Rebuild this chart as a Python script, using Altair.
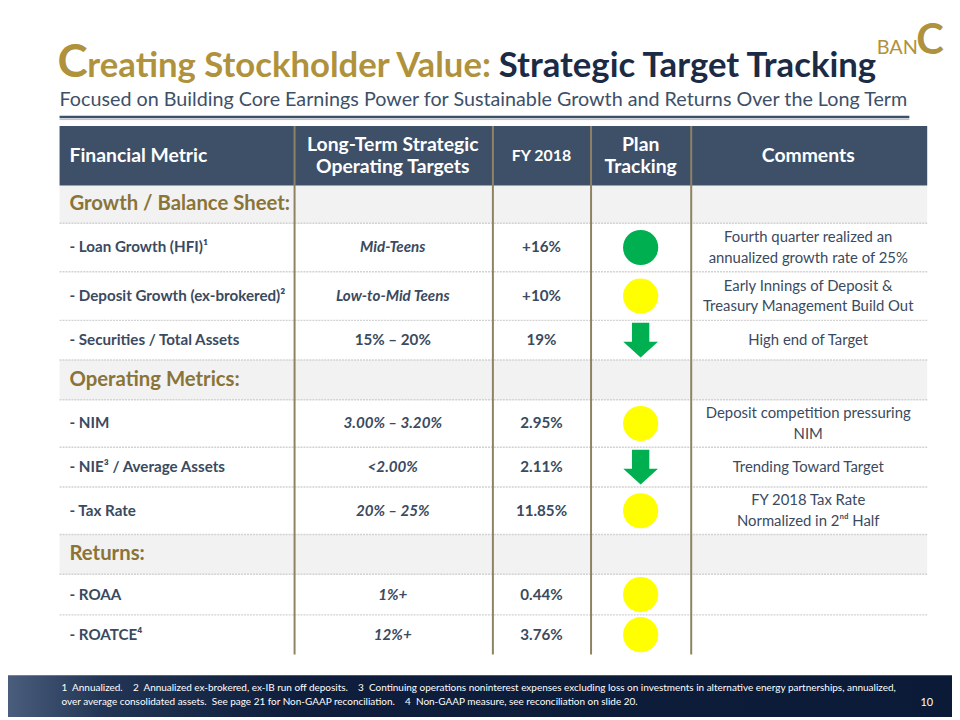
import altair as alt
import pandas as pd

# ------------------------------------------------------------------ data
title_lead = "C"
title_gold = "reating Stockholder Value:"
title_dark = "Strategic Target Tracking"
subtitle = ("Focused on Building Core Earnings Power for Sustainable Growth "
            "and Returns Over the Long Term")
logo_small = "BAN"
logo_big = "C"

header_labels = ["Financial Metric", "Long-Term Strategic\nOperating Targets",
                 "FY 2018", "Plan\nTracking", "Comments"]

sections = ["Growth / Balance Sheet:", "Operating Metrics:", "Returns:"]

metrics = ["- Loan Growth (HFI)¹", "- Deposit Growth (ex-brokered)²",
           "- Securities / Total Assets", "- NIM", "- NIE³ / Average Assets",
           "- Tax Rate", "- ROAA", "- ROATCE⁴"]
metric_section = [0, 0, 0, 1, 1, 1, 2, 2]
targets = ["Mid-Teens", "Low-to-Mid Teens", "15% – 20%", "3.00% – 3.20%",
           "<2.00%", "20% – 25%", "1%+", "12%+"]
fy2018 = ["+16%", "+10%", "19%", "2.95%", "2.11%", "11.85%", "0.44%", "3.76%"]
tracking = ["On track", "Watch", "Trending down", "Watch", "Trending down",
            "Watch", "Watch", "Watch"]
comments = ["Fourth quarter realized an\nannualized growth rate of 25%",
            "Early Innings of Deposit &\nTreasury Management Build Out",
            "High end of Target",
            "Deposit competition pressuring\nNIM",
            "Trending Toward Target",
            "FY 2018 Tax Rate\nNormalized in 2ⁿᵈ Half",
            "", ""]

NB = "\u00a0"
footnotes = [
    f"1{NB}{NB}Annualized.{NB*4}2{NB}{NB}Annualized ex-brokered, ex-IB run off "
    f"deposits.{NB*4}3{NB}{NB}Continuing operations noninterest expenses "
    "excluding loss on investments in alternative energy partnerships, annualized,",
    f"over average consolidated assets.{NB}{NB}See page 21 for Non-GAAP "
    f"reconciliation.{NB*4}4{NB}{NB}Non-GAAP measure, see reconciliation on slide 20.",
]
page_number = "10"

# ------------------------------------------------------------------ layout
FONT = "Lato"
SLATE = "#3D5068"
TEXT = "#3A4A60"
GOLD = "#B0923D"
SECTION_GOLD = "#8A7438"
RULE_GOLD = "#8F8263"

col_edges = [60, 297, 497, 596, 697, 935]
col_text_x = [70, 396, 546, 646, 815]
header_top, header_bottom = 124, 184
row_edges = [184, 222, 271, 320, 360, 400, 448, 488, 536, 576, 617, 657]
upright_targets = {"15% – 20%"}
COMMENT_LH = 21
HEADER_LH = 22

xs = alt.Scale(domain=[8, 960], nice=False, zero=False)
ys = alt.Scale(domain=[720, 8], nice=False, zero=False)


def X(f="x"):
    return alt.X(f"{f}:Q", scale=xs, axis=None)


def Y(f="y"):
    return alt.Y(f"{f}:Q", scale=ys, axis=None)


# build table rows
rows = []
for s_i, s in enumerate(sections):
    rows.append(dict(kind="section", label=s, target="", fy="", track="",
                     comment=""))
    for m_i, sec in enumerate(metric_section):
        if sec == s_i:
            rows.append(dict(kind="metric", label=metrics[m_i],
                             target=targets[m_i], fy=fy2018[m_i],
                             track=tracking[m_i], comment=comments[m_i]))
tbl = pd.DataFrame(rows)
tbl["y0"] = row_edges[:-1]
tbl["y1"] = row_edges[1:]
tbl["yc"] = (tbl["y0"] + tbl["y1"]) / 2
nlines = tbl["comment"].str.count("\n") + 1
tbl["ycm"] = tbl["yc"] - (nlines - 1) * COMMENT_LH / 2
tbl["x0"] = col_edges[0]
tbl["x1"] = col_edges[-1]
tbl["xl"] = col_text_x[0]
tbl["xt"] = col_text_x[1]
tbl["xf"] = col_text_x[2]
tbl["xk"] = col_text_x[3]
tbl["xc"] = col_text_x[4]

sec_df = tbl[tbl.kind == "section"]
met_df = tbl[tbl.kind == "metric"]
ital_df = met_df[~met_df.target.isin(upright_targets)]
upr_df = met_df[met_df.target.isin(upright_targets)]
circ_df = met_df[met_df.track.isin(["On track", "Watch"])]
arrow_df = met_df[met_df.track == "Trending down"]

layers = []

# section row backgrounds
layers.append(alt.Chart(sec_df).mark_rect(fill="#F2F2F2").encode(
    x=X("x0"), x2="x1", y=Y("y0"), y2="y1"))

# header band
hdr_rect = pd.DataFrame([dict(x0=col_edges[0], x1=col_edges[-1],
                              y0=header_top, y1=header_bottom)])
layers.append(alt.Chart(hdr_rect).mark_rect(fill=SLATE).encode(
    x=X("x0"), x2="x1", y=Y("y0"), y2="y1"))

# dotted row separators
sep_df = pd.DataFrame(dict(y=row_edges[1:-1], x0=col_edges[0],
                           x1=col_edges[-1]))
layers.append(alt.Chart(sep_df).mark_rule(
    color="#D2D2D2", strokeWidth=1.5, strokeDash=[2, 1]).encode(
    x=X("x0"), x2="x1", y=Y("y")))

# vertical column rules
vr_df = pd.DataFrame(dict(x=col_edges[1:-1], y0=header_top, y1=row_edges[-1]))
layers.append(alt.Chart(vr_df).mark_rule(
    color=RULE_GOLD, strokeWidth=2).encode(x=X("x"), y=Y("y0"), y2="y1"))

# header texts
hdr_df = pd.DataFrame(dict(text=header_labels, x=col_text_x))
hdr_df["y"] = ((header_top + header_bottom) / 2
               - hdr_df["text"].str.count("\n") * HEADER_LH / 2)
layers.append(alt.Chart(hdr_df.iloc[:1]).mark_text(
    align="left", baseline="middle", font=FONT, fontSize=19.5,
    fontWeight="bold", color="white").encode(x=X(), y=Y(), text="text:N"))
layers.append(alt.Chart(hdr_df[hdr_df.text != "FY 2018"].iloc[1:]).mark_text(
    align="center", baseline="middle", font=FONT, fontSize=19.5,
    fontWeight="bold", color="white", lineBreak="\n",
    lineHeight=HEADER_LH).encode(x=X(), y=Y(), text="text:N"))
layers.append(alt.Chart(hdr_df[hdr_df.text == "FY 2018"]).mark_text(
    align="center", baseline="middle", font=FONT, fontSize=16,
    fontWeight="bold", color="white").encode(x=X(), y=Y(), text="text:N"))

# section labels
layers.append(alt.Chart(sec_df).mark_text(
    align="left", baseline="middle", font=FONT, fontSize=20.5,
    fontWeight="bold", color=SECTION_GOLD).encode(
    x=X("xl"), y=Y("yc"), text="label:N"))

# metric labels
layers.append(alt.Chart(met_df).mark_text(
    align="left", baseline="middle", font=FONT, fontSize=15.3,
    fontWeight="bold", color=TEXT).encode(
    x=X("xl"), y=Y("yc"), text="label:N"))

# targets
layers.append(alt.Chart(ital_df).mark_text(
    align="center", baseline="middle", font=FONT, fontSize=15.3,
    fontWeight="bold", fontStyle="italic", color=TEXT).encode(
    x=X("xt"), y=Y("yc"), text="target:N"))
layers.append(alt.Chart(upr_df).mark_text(
    align="center", baseline="middle", font=FONT, fontSize=15.3,
    fontWeight="bold", color=TEXT).encode(
    x=X("xt"), y=Y("yc"), text="target:N"))

# FY 2018
layers.append(alt.Chart(met_df).mark_text(
    align="center", baseline="middle", font=FONT, fontSize=15.3,
    fontWeight="bold", color=TEXT).encode(
    x=X("xf"), y=Y("yc"), text="fy:N"))

# comments
layers.append(alt.Chart(met_df).mark_text(
    align="center", baseline="middle", font=FONT, fontSize=15,
    color=TEXT, lineBreak="\n", lineHeight=COMMENT_LH).encode(
    x=X("xc"), y=Y("ycm"), text="comment:N"))

# tracking symbols
layers.append(alt.Chart(circ_df).mark_point(
    shape="circle", filled=True, opacity=1, size=1260).encode(
    x=X("xk"), y=Y("yc"),
    color=alt.Color("track:N", legend=None,
                    scale=alt.Scale(domain=["On track", "Watch"],
                                    range=["#00B050", "#FFFF00"]))))
ARROW = "M-0.5,-1 L0.5,-1 L0.5,0.09 L1,0.09 L0,1 L-1,0.09 L-0.5,0.09 Z"
layers.append(alt.Chart(arrow_df).mark_point(
    shape=ARROW, filled=True, opacity=1, size=1225, color="#00B050").encode(
    x=X("xk"), y=Y("yc")))

# title
ttl = pd.DataFrame([dict(t=title_lead, x=58, y=75),
                    dict(t=title_gold, x=88, y=75),
                    dict(t=title_dark, x=503, y=75)])
layers.append(alt.Chart(ttl.iloc[:1]).mark_text(
    align="left", baseline="alphabetic", font=FONT, fontSize=46,
    fontWeight="bold", color=GOLD).encode(x=X(), y=Y(), text="t:N"))
layers.append(alt.Chart(ttl.iloc[1:2]).mark_text(
    align="left", baseline="alphabetic", font=FONT, fontSize=35,
    fontWeight="bold", color=GOLD).encode(x=X(), y=Y(), text="t:N"))
layers.append(alt.Chart(ttl.iloc[2:]).mark_text(
    align="left", baseline="alphabetic", font=FONT, fontSize=35,
    fontWeight="bold", color="#1C2B45").encode(x=X(), y=Y(), text="t:N"))

sub = pd.DataFrame([dict(t=subtitle, x=60, y=104)])
layers.append(alt.Chart(sub).mark_text(
    align="left", baseline="alphabetic", font=FONT, fontSize=19.9,
    color=SLATE).encode(x=X(), y=Y(), text="t:N"))

# logo
logo = pd.DataFrame([dict(t=logo_small, x=884, y=51),
                     dict(t=logo_big, x=924, y=51)])
layers.append(alt.Chart(logo.iloc[:1]).mark_text(
    align="left", baseline="alphabetic", font=FONT, fontSize=20,
    color=GOLD).encode(x=X(), y=Y(), text="t:N"))
layers.append(alt.Chart(logo.iloc[1:]).mark_text(
    align="left", baseline="alphabetic", font=FONT, fontSize=42,
    fontWeight="bold", color=GOLD).encode(x=X(), y=Y(), text="t:N"))

# line under subtitle
ln = pd.DataFrame([dict(x0=60, x1=917, y=115),
                   dict(x0=60, x1=917, y=117.5)])
layers.append(alt.Chart(ln.iloc[:1]).mark_rule(
    color=SLATE, strokeWidth=2.5).encode(x=X("x0"), x2="x1", y=Y("y")))
layers.append(alt.Chart(ln.iloc[1:]).mark_rule(
    color="#B8BEC7", strokeWidth=1).encode(x=X("x0"), x2="x1", y=Y("y")))

# footer band
foot = pd.DataFrame([dict(x0=8, x1=960, y0=678, y1=720)])
grad = alt.LinearGradient(
    gradient="linear", x1=0, x2=1, y1=0, y2=0,
    stops=[alt.GradientStop(color="#4A5D7C", offset=0),
           alt.GradientStop(color="#223554", offset=0.1),
           alt.GradientStop(color="#0F1E3C", offset=0.3),
           alt.GradientStop(color="#0B1A36", offset=1)])
layers.append(alt.Chart(foot).mark_rect(fill=grad).encode(
    x=X("x0"), x2="x1", y=Y("y0"), y2="y1"))

fn = pd.DataFrame(dict(t=footnotes, x=62, y=[694, 708]))
layers.append(alt.Chart(fn).mark_text(
    align="left", baseline="alphabetic", font=FONT, fontSize=10.05,
    color="white").encode(x=X(), y=Y(), text="t:N"))
pn = pd.DataFrame([dict(t=page_number, x=941, y=709)])
layers.append(alt.Chart(pn).mark_text(
    align="right", baseline="alphabetic", font=FONT, fontSize=11,
    color="white").encode(x=X(), y=Y(), text="t:N"))

chart = alt.layer(*layers).properties(
    width=952, height=712, padding=0,
    autosize=alt.AutoSizeParams(type="none"),
    background="white",
).configure_view(stroke=None)

chart.save("out.html", embed_options={"renderer": "svg", "actions": False})
